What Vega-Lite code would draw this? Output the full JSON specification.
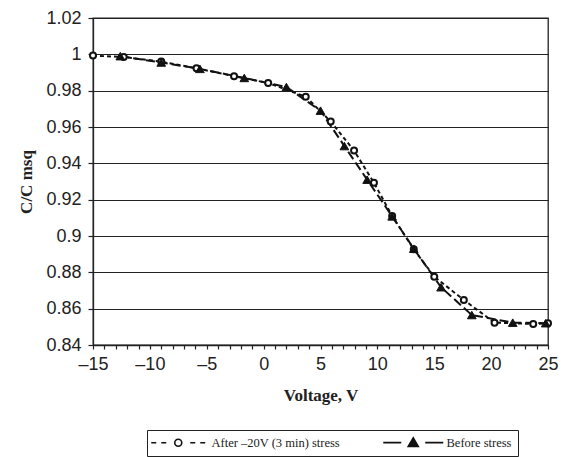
{
  "$schema": "https://vega.github.io/schema/vega-lite/v6.json",
  "width": 455,
  "height": 327,
  "autosize": "none",
  "padding": {"left": 93, "top": 18, "right": 18, "bottom": 112},
  "background": "white",
  "config": {
    "view": {"stroke": "#222", "strokeWidth": 1.3},
    "axis": {"labelFont": "Liberation Sans", "labelFontSize": 18, "labelColor": "#222", "titleFont": "Liberation Serif", "titleFontWeight": "bold", "titleFontSize": 17, "titleColor": "#222", "domainColor": "#222", "tickColor": "#222", "domainWidth": 1.3, "tickWidth": 1.2}
  },
  "data": {
    "values": [
      {"series": "A", "V": -15, "C": 0.9993},
      {"series": "A", "V": -12.3, "C": 0.9985},
      {"series": "A", "V": -9, "C": 0.996},
      {"series": "A", "V": -5.9, "C": 0.9923},
      {"series": "A", "V": -2.6, "C": 0.988},
      {"series": "A", "V": 0.4, "C": 0.9842},
      {"series": "A", "V": 3.7, "C": 0.9767},
      {"series": "A", "V": 5.9, "C": 0.963},
      {"series": "A", "V": 7.95, "C": 0.947},
      {"series": "A", "V": 9.7, "C": 0.9293},
      {"series": "A", "V": 11.3, "C": 0.911},
      {"series": "A", "V": 13.2, "C": 0.8927},
      {"series": "A", "V": 15.0, "C": 0.8776},
      {"series": "A", "V": 17.6, "C": 0.8648},
      {"series": "A", "V": 20.3, "C": 0.8523},
      {"series": "A", "V": 23.7, "C": 0.8516},
      {"series": "A", "V": 25.0, "C": 0.852},
      {"series": "B", "V": -12.6, "C": 0.999},
      {"series": "B", "V": -9, "C": 0.9955},
      {"series": "B", "V": -5.6, "C": 0.992},
      {"series": "B", "V": -1.7, "C": 0.987},
      {"series": "B", "V": 2.0, "C": 0.982},
      {"series": "B", "V": 5.0, "C": 0.969},
      {"series": "B", "V": 7.1, "C": 0.9495},
      {"series": "B", "V": 9.1, "C": 0.931},
      {"series": "B", "V": 11.3, "C": 0.9108},
      {"series": "B", "V": 13.2, "C": 0.893},
      {"series": "B", "V": 15.6, "C": 0.8718},
      {"series": "B", "V": 18.3, "C": 0.8565},
      {"series": "B", "V": 21.9, "C": 0.8523},
      {"series": "B", "V": 24.8, "C": 0.852}
    ]
  },
  "encoding": {
    "x": {"field": "V", "type": "quantitative", "scale": {"domain": [-15, 25], "nice": false, "zero": false},
      "axis": {"title": "Voltage, V", "values": [-15,-14,-13,-12,-11,-10,-9,-8,-7,-6,-5,-4,-3,-2,-1,0,1,2,3,4,5,6,7,8,9,10,11,12,13,14,15,16,17,18,19,20,21,22,23,24,25],
        "labelExpr": "datum.value % 5 == 0 ? replace(format(datum.value, 'd'), '−', '–') : ''", "grid": false, "tickSize": 4, "labelPadding": 6, "titlePadding": 14, "labelFlush": false, "labelOverlap": false}},
    "y": {"field": "C", "type": "quantitative", "scale": {"domain": [0.84, 1.02], "nice": false, "zero": false},
      "axis": {"title": "C/C msq", "values": [0.84,0.86,0.88,0.9,0.92,0.94,0.96,0.98,1,1.02], "format": ".2~f", "grid": true, "gridColor": "#222", "gridWidth": 1.2, "gridOpacity": 1, "tickSize": 5, "labelPadding": 7, "titlePadding": 10}}
  },
  "layer": [
    {"transform": [{"filter": "datum.series == 'A'"}], "mark": {"type": "line", "color": "#111", "strokeWidth": 2, "strokeDash": [4, 3]}},
    {"transform": [{"filter": "datum.series == 'B'"}], "mark": {"type": "line", "color": "#111", "strokeWidth": 2, "strokeDash": [9, 4]}},
    {"transform": [{"filter": "datum.series == 'A'"}], "mark": {"type": "point", "shape": "circle", "size": 36, "filled": true, "fill": "white", "stroke": "#111", "strokeWidth": 2, "opacity": 1}},
    {"transform": [{"filter": "datum.series == 'B'"}], "mark": {"type": "point", "shape": "triangle-up", "size": 75, "filled": true, "fill": "#111", "stroke": "#111", "strokeWidth": 1, "opacity": 1}},
    {"transform": [{"filter": "datum.V > 1000"}], "mark": {"type": "point", "filled": true, "strokeWidth": 1.6, "opacity": 1},
      "encoding": {
        "shape": {"field": "series", "type": "nominal", "scale": {"domain": ["A", "B"], "range": ["M-5.4,0H-4.4M-3.4,0H-2.4M-0.7,0A0.7,0.7 0 1,0 0.7,0A0.7,0.7 0 1,0 -0.7,0M2.4,0H3.4M4.4,0H5.4", "M-6,0H-2.4M-1,0.75L0,-0.95L1,0.75ZM2.4,0H6"]},
          "legend": {"title": null, "orient": "none", "legendX": 54, "legendY": 412, "direction": "horizontal", "columns": 2, "strokeColor": "#222", "padding": 6, "cornerRadius": 0, "symbolSize": 100, "symbolOffset": 19, "labelOffset": 27, "columnPadding": 40, "symbolStrokeWidth": 1.6, "symbolOpacity": 1, "labelFont": "Liberation Serif", "labelFontSize": 12.5, "labelColor": "#222", "labelExpr": "datum.value == 'A' ? 'After –20V (3 min) stress' : 'Before stress'", "labelLimit": 300}},
        "fill": {"field": "series", "type": "nominal", "scale": {"domain": ["A", "B"], "range": ["white", "#111"]}},
        "stroke": {"field": "series", "type": "nominal", "scale": {"domain": ["A", "B"], "range": ["#111", "#111"]}}
      }}
  ]
}
